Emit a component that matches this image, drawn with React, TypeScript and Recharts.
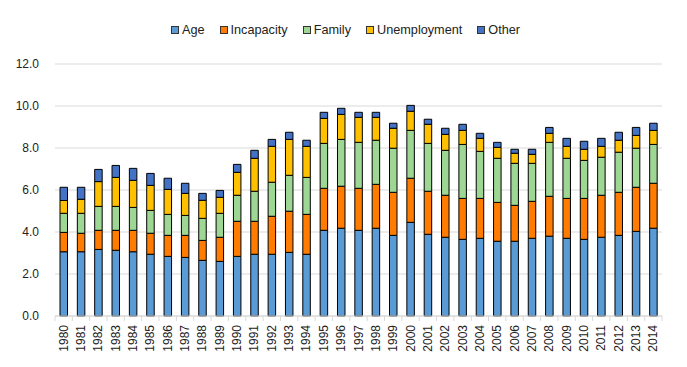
import React from "react";
import { BarChart, Bar, XAxis, YAxis, CartesianGrid } from "recharts";

const years = [
  "1980","1981","1982","1983","1984","1985","1986","1987","1988","1989",
  "1990","1991","1992","1993","1994","1995","1996","1997","1998","1999",
  "2000","2001","2002","2003","2004","2005","2006","2007","2008","2009",
  "2010","2011","2012","2013","2014",
];
const age = [3.06,3.06,3.17,3.13,3.06,2.94,2.84,2.79,2.65,2.6,2.84,2.94,2.94,3.03,2.94,4.08,4.18,4.08,4.18,3.84,4.46,3.89,3.75,3.65,3.7,3.56,3.56,3.7,3.8,3.7,3.65,3.75,3.84,4.03,4.18];
const incapacity = [0.92,0.88,0.91,0.95,1.02,1.0,1.0,1.05,0.95,1.15,1.67,1.57,1.81,1.96,1.9,2.0,2.0,2.0,2.09,2.05,2.1,2.05,2.0,1.95,1.9,1.85,1.71,1.76,1.9,1.9,1.95,2.0,2.05,2.1,2.14];
const family = [0.91,0.95,1.14,1.14,1.09,1.09,1.0,0.95,1.05,1.14,1.24,1.43,1.62,1.71,1.76,2.14,2.23,2.19,2.1,2.1,2.28,2.28,2.14,2.57,2.24,2.1,2.0,1.81,2.57,1.91,1.81,1.81,1.91,1.86,1.85];
const unemployment = [0.61,0.67,1.18,1.38,1.29,1.19,1.19,1.05,0.86,0.76,1.09,1.57,1.71,1.71,1.48,1.19,1.19,1.19,1.09,0.95,0.91,0.91,0.76,0.67,0.62,0.52,0.48,0.43,0.43,0.57,0.53,0.52,0.57,0.61,0.67];
const other = [0.63,0.57,0.58,0.57,0.57,0.57,0.53,0.48,0.33,0.33,0.38,0.38,0.33,0.34,0.29,0.29,0.29,0.24,0.24,0.24,0.28,0.24,0.29,0.29,0.24,0.24,0.19,0.24,0.28,0.38,0.38,0.38,0.38,0.38,0.34];
const yTicks = [0, 2, 4, 6, 8, 10, 12];

const series = [
  { key: "Age", values: age, color: "#5B9BD5" },
  { key: "Incapacity", values: incapacity, color: "#FF7C00" },
  { key: "Family", values: family, color: "#9ED693" },
  { key: "Unemployment", values: unemployment, color: "#FFC000" },
  { key: "Other", values: other, color: "#4472C4" },
];

const data = years.map((y, i) => {
  const row: Record<string, any> = { year: y };
  series.forEach((s) => (row[s.key] = s.values[i]));
  return row;
});

const W = 687;
const H = 367;
const M = { top: 64, right: 25, left: 0, bottom: 7 };
const YW = 55;
const FONT = "'Liberation Sans', Arial, sans-serif";

const XTick = (props: any) => {
  const { x, y, payload, index } = props;
  const plotW = W - M.left - M.right - YW;
  const step = plotW / years.length;
  const axisY = y - 9;
  return (
    <g>
      <line x1={x - step / 2} x2={x - step / 2} y1={axisY} y2={axisY + 5} stroke="#D9D9D9" />
      {index === years.length - 1 && (
        <line x1={x + step / 2} x2={x + step / 2} y1={axisY} y2={axisY + 5} stroke="#D9D9D9" />
      )}
      <text
        x={x}
        y={y}
        transform={`rotate(-90, ${x}, ${y})`}
        textAnchor="end"
        dominantBaseline="central"
        fontSize={12}
        fontFamily={FONT}
        fill="#222"
      >
        {payload.value}
      </text>
    </g>
  );
};

const Legend = () => (
  <div
    style={{
      position: "absolute",
      top: 22,
      left: 0,
      width: W,
      display: "flex",
      justifyContent: "center",
      alignItems: "center",
      transform: "translateX(2px)",
      fontFamily: FONT,
      fontSize: 12.7,
      color: "#222",
    }}
  >
    {series.map((s, i) => (
      <div key={s.key} style={{ display: "flex", alignItems: "center", marginLeft: i === 0 ? 0 : 15 }}>
        <div
          style={{
            width: 6,
            height: 6,
            background: s.color,
            border: "1px solid #333",
            marginRight: 3,
          }}
        />
        <span style={{ lineHeight: "16px" }}>{s.key}</span>
      </div>
    ))}
  </div>
);

export default function App() {
  return (
    <div style={{ position: "relative", width: W, height: H, margin: -8, background: "#fff" }}>
      <div
        style={{
          position: "absolute",
          left: 4,
          top: 4,
          width: 676,
          height: 356,
          border: "1px solid #D9D9D9",
          boxSizing: "border-box",
        }}
      />
      <Legend />
      <div style={{ position: "absolute", left: 0, top: 0 }}>
        <BarChart width={W} height={H} data={data} margin={M} barSize={7.5}>
          <CartesianGrid vertical={false} stroke="#D9D9D9" />
          <XAxis
            dataKey="year"
            interval={0}
            height={44}
            tickLine={false}
            tickSize={0}
            tickMargin={9}
            axisLine={{ stroke: "#D9D9D9" }}
            tick={<XTick />}
          />
          <YAxis
            width={YW}
            domain={[0, 12]}
            ticks={yTicks}
            axisLine={false}
            tickLine={false}
            tickSize={6}
            tickMargin={10}
            tickFormatter={(v: number) => v.toFixed(1)}
            tick={{ fontSize: 12, fontFamily: FONT, fill: "#222" }}
          />
          {series.map((s) => (
            <Bar
              key={s.key}
              dataKey={s.key}
              stackId="a"
              fill={s.color}
              stroke="#000"
              strokeWidth={1}
              isAnimationActive={false}
            />
          ))}
        </BarChart>
      </div>
    </div>
  );
}
